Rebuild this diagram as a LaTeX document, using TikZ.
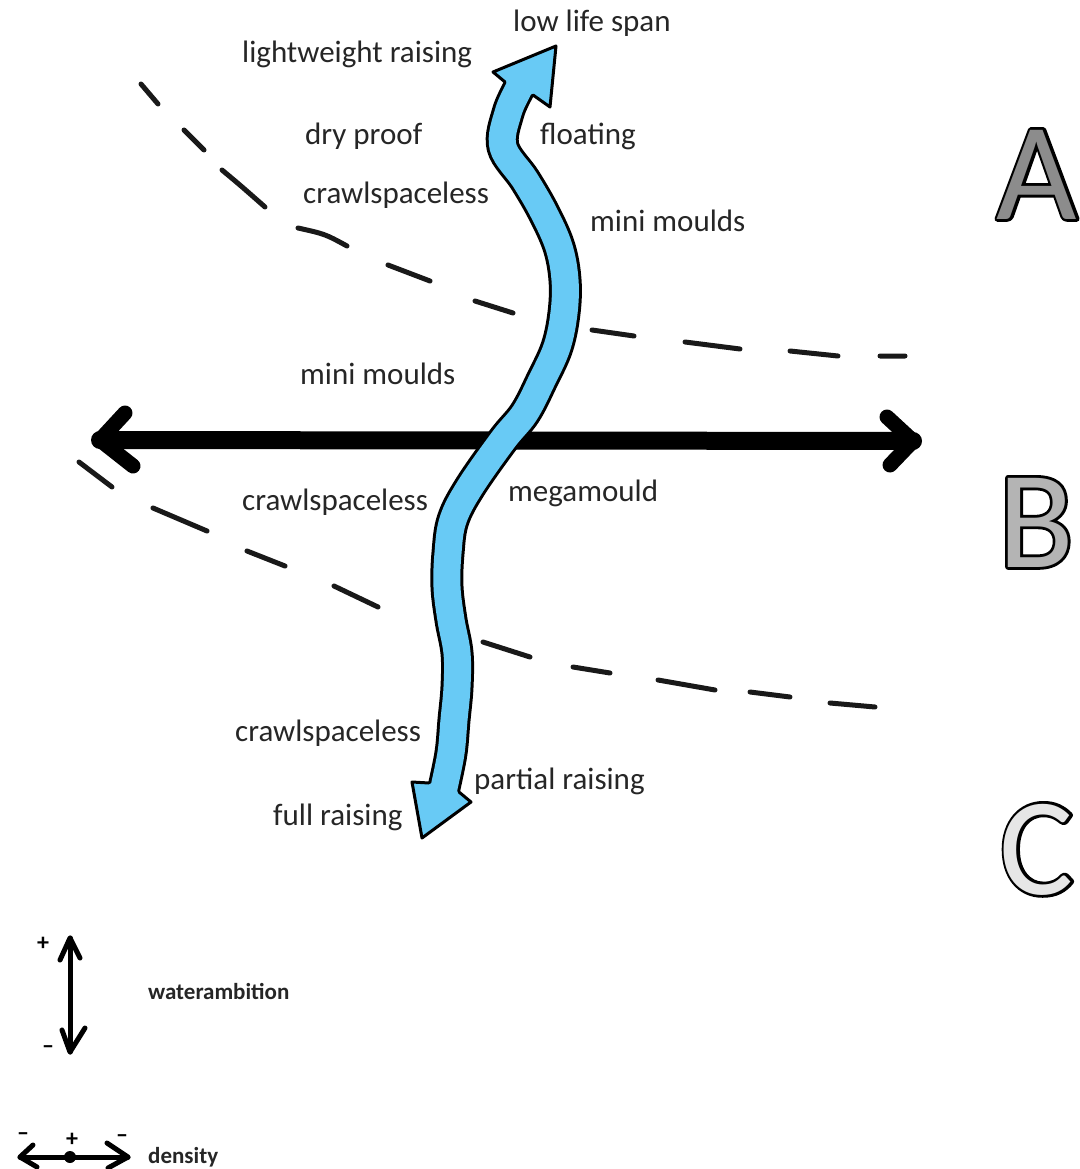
\documentclass[tikz,border=0pt]{standalone}
\usepackage{fontspec}
\setmainfont{Carlito}
\definecolor{skyb}{RGB}{104,202,245}
\definecolor{gA}{RGB}{140,140,140}
\definecolor{gB}{RGB}{180,180,180}
\definecolor{gC}{RGB}{230,230,230}
\newcommand\outlinedletter[2]{\rlap{\color{black}\special{pdf:literal direct 1 Tr 5.6 w 1 j 0 G}#2\special{pdf:literal direct 0 Tr}}{\color{#1}#2}}
\begin{document}
\begin{tikzpicture}[x=1pt,y=-1pt,
  lbl/.style={font=\fontsize{31}{36}\selectfont, inner sep=0pt, anchor=base west, text=black!85},
  leg/.style={font=\fontsize{23}{27}\selectfont\bfseries, inner sep=0pt, anchor=base west, text=black!85},
  pm/.style={font=\fontsize{24}{26}\selectfont\bfseries, inner sep=0pt},
  bigletter/.style={font=\fontsize{139}{150}\selectfont, inner sep=0pt, anchor=base},
  dashseg/.style={line width=5pt, line cap=round, black!90},
  chev/.style={line width=15pt, line cap=round, line join=round},
  legline/.style={line width=5pt, line cap=round, line join=round}]
\useasboundingbox (0,0) rectangle (1079,1169);
\fill[white] (0,0) rectangle (1079,1169);

% dashed boundaries
\draw[dashseg] (141,84) -- (158,104)
  (184,130) -- (204,150)
  (222,170) .. controls (240,185) .. (265,207)
  (298,228) .. controls (325,234) .. (347,246)
  (388,265) -- (430,281)
  (475,301) -- (513,313)
  (592,330) -- (634,336)
  (685,342) -- (740,349)
  (790,351) -- (838,356)
  (880,356) -- (905,356);
\draw[dashseg] (79,462) -- (112,487)
  (153,508) -- (207,531)
  (247,551) -- (285,566)
  (334,586) -- (378,607)
  (483,642) -- (530,657)
  (573,667) -- (610,673)
  (658,680) -- (715,690)
  (750,692) -- (790,697)
  (830,703) -- (875,707);

% horizontal density axis
\coordinate (L) at (100,440);
\coordinate (R) at (913,441);
\coordinate (Lu) at (125,413);
\coordinate (Ld) at (133,466);
\coordinate (Ru) at (887,417);
\coordinate (Rd) at (890,465);
\draw[line width=18pt, line cap=round] (L) -- (R);
\draw[chev] (Lu) -- (L) -- (Ld);
\draw[chev] (Ru) -- (R) -- (Rd);

% blue wavy arrow
\draw[line width=33pt, black] plot[smooth, tension=0.6] coordinates {(521,83) (519,88) (508,113) (503,147) (525,180) (544,213) (559,247) (565,280) (564,313) (557,347) (542,380) (525,413) (503,440) (470,487) (453,520) (448,553) (447,587) (451,620) (457,653) (457,687) (454,720) (451,753) (444,788) (443,794)};
\draw[line width=27pt, skyb] plot[smooth, tension=0.6] coordinates {(521,83) (519,88) (508,113) (503,147) (525,180) (544,213) (559,247) (565,280) (564,313) (557,347) (542,380) (525,413) (503,440) (470,487) (453,520) (448,553) (447,587) (451,620) (457,653) (457,687) (454,720) (451,753) (444,788) (443,794)};
\fill[skyb] (505,82) -- (493,72) -- (556,46) -- (550,107) -- (533,95) -- cycle;
\draw[line width=3pt, line join=round, line cap=round] (505,82) -- (493,72) -- (556,46) -- (550,107) -- (533,95);
\fill[skyb] (429,783) -- (412,782) -- (422,838) -- (471,802) -- (459,792) -- cycle;
\draw[line width=3pt, line join=round, line cap=round] (429,783) -- (412,782) -- (422,838) -- (471,802) -- (459,792);

% labels
\node[lbl] (t1) at (513,32) {low life span};
\node[lbl] (t2) at (242,63) {lightweight raising};
\node[lbl] (t3) at (305,145) {dry proof};
\node[lbl] (t4) at (540,145) {floating};
\node[lbl] (t5) at (303,204) {crawlspaceless};
\node[lbl] (t6) at (590,231) {mini moulds};
\node[lbl] (t7) at (300,384) {mini moulds};
\node[lbl] (t8) at (242,510) {crawlspaceless};
\node[lbl] (t9) at (508,501) {megamould};
\node[lbl] (t10) at (235,741) {crawlspaceless};
\node[lbl] (t11) at (474,789) {partial raising};
\node[lbl] (t12) at (273,825) {full raising};

% zone letters
\node[bigletter] (A) at (1037,219) {\outlinedletter{gA}{A}};
\node[bigletter] (B) at (1036,567) {\outlinedletter{gB}{B}};
\node[bigletter] (C) at (1037,894) {\outlinedletter{gC}{C}};

% legend: waterambition
\coordinate (Vt) at (70,938);
\coordinate (Vb) at (70,1052);
\draw[legline] (Vt) -- (Vb);
\draw[legline] (60,960) -- (Vt) -- (80,958);
\draw[legline] (62,1030) -- (Vb) -- (85,1028);
\node[pm] (vp) at (43,944) {+};
\node[pm] (vm) at (48,1050) {–};
\node[leg] (w) at (148,999) {waterambition};

% legend: density
\coordinate (Hl) at (20,1157);
\coordinate (Hr) at (128,1157);
\draw[legline] (Hl) -- (Hr);
\draw[legline] (33,1145) -- (Hl) -- (37,1167);
\draw[legline] (107,1143) -- (Hr) -- (108,1168);
\fill (70,1157) circle (6);
\node[pm] (hp) at (72,1140) {+};
\node[pm] (hm1) at (23,1137) {–};
\node[pm] (hm2) at (122,1139) {–};
\node[leg] (d) at (148,1163) {density};
\end{tikzpicture}
\end{document}
